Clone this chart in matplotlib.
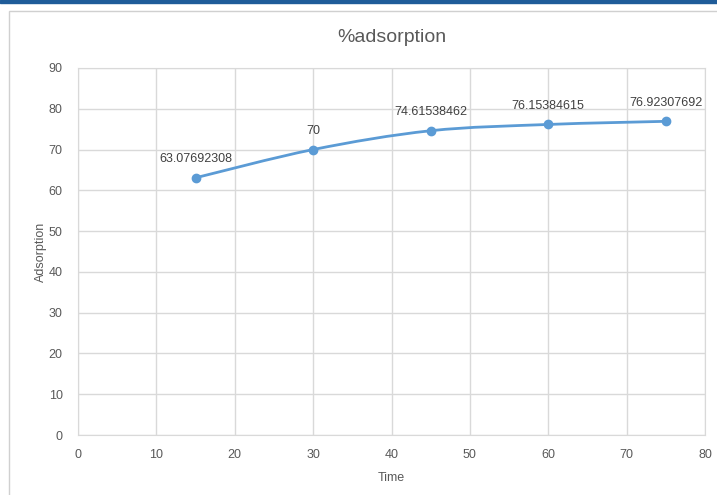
import numpy as np
import matplotlib.pyplot as plt
from matplotlib.path import Path
from matplotlib.patches import PathPatch, Rectangle

plt.rcParams['font.family'] = ['Liberation Sans', 'DejaVu Sans']

time = [15, 30, 45, 60, 75]
adsorption = [63.07692308, 70, 74.61538462, 76.15384615, 76.92307692]
labels = ['63.07692308', '70', '74.61538462', '76.15384615', '76.92307692']

line_color = '#5b9bd5'
grid_color = '#d9d9d9'
text_color = '#595959'


def smooth_path(x, y, tension=1 / 6):
    # cubic bezier segments through the points (Catmull-Rom style, like a spreadsheet smoothed line)
    pts = np.column_stack([x, y]).astype(float)
    verts = [pts[0]]
    codes = [Path.MOVETO]
    n = len(pts)
    for i in range(n - 1):
        p0 = pts[i - 1] if i > 0 else pts[i]
        p1 = pts[i]
        p2 = pts[i + 1]
        p3 = pts[i + 2] if i + 2 < n else pts[i + 1]
        c1 = p1 + (p2 - p0) * tension
        c2 = p2 - (p3 - p1) * tension
        verts += [c1, c2, p2]
        codes += [Path.CURVE4] * 3
    return Path(verts, codes)


fig = plt.figure(figsize=(7.17, 4.95), dpi=100)

# chart frame and header strip
fig.patches.append(Rectangle((0, 1 - 3 / 495), 1, 3 / 495, transform=fig.transFigure,
                             color='#1f5c99', zorder=-10))
fig.patches.append(Rectangle((9 / 717, -0.1), 1.1, 1 - 11 / 495 + 0.1, transform=fig.transFigure,
                             facecolor='white', edgecolor='#d0d0d0', lw=1, zorder=-10))

ax = fig.add_axes([78 / 717, 60 / 495, (705 - 78) / 717, (435 - 68) / 495])
ax.set_facecolor('none')

ax.add_patch(PathPatch(smooth_path(time, adsorption), facecolor='none',
                       edgecolor=line_color, lw=2, zorder=3))
ax.plot(time, adsorption, 'o', color=line_color, ms=6, zorder=4)

for xv, yv, lab in zip(time, adsorption, labels):
    ax.annotate(lab, (xv, yv), xytext=(0, 9), textcoords='offset points',
                ha='center', va='bottom', fontsize=9, color='#404040')

ax.set_xlim(0, 80)
ax.set_ylim(0, 90)
ax.set_xticks(range(0, 81, 10))
ax.set_yticks(range(0, 91, 10))
ax.grid(True, color=grid_color, lw=1)
ax.set_axisbelow(True)
for s in ax.spines.values():
    s.set_color(grid_color)
ax.tick_params(length=0, colors=text_color, labelsize=9)
ax.tick_params(axis='y', pad=11)
ax.tick_params(axis='x', pad=10)

ax.set_title('%adsorption', fontsize=14, color=text_color, pad=19)
ax.set_xlabel('Time', fontsize=9, color=text_color, labelpad=8)
ax.set_ylabel('Adsorption', fontsize=9, color=text_color, labelpad=1)

fig.savefig('out.png', dpi=100)
